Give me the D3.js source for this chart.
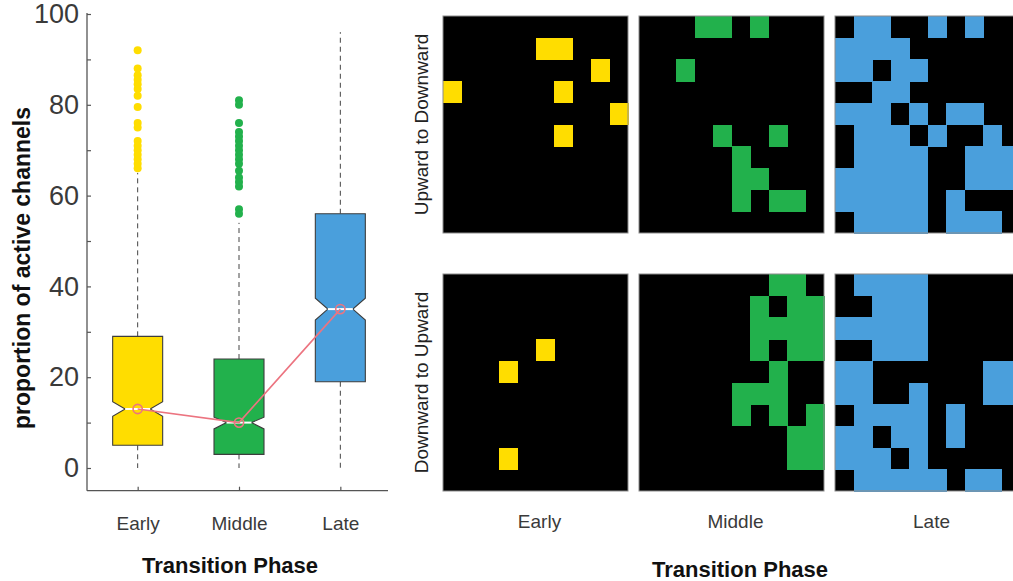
<!DOCTYPE html>
<html>
<head>
<meta charset="utf-8">
<script src="https://cdn.jsdelivr.net/npm/d3@7"></script>
<style>
  html, body { margin: 0; padding: 0; background: #fff; }
  svg { display: block; font-family: "Liberation Sans", Arial, sans-serif; }
</style>
</head>
<body>
<svg id="fig" width="1013" height="581"></svg>
<script>
// ---- box plot data: proportion of active channels per transition phase ----
const categories = ["Early", "Middle", "Late"];
const phaseColors = ["#FFDD00", "#22B14C", "#4A9FDC"];
const q1 = [5, 3, 19];
const medians = [13, 10, 35];
const q3 = [29, 24, 56];
const whiskerLow = [0, 0, 0];
const whiskerHigh = [65, 54, 96];
const notchLow = [11.4, 8.6, 32.6];
const notchHigh = [14.6, 11.2, 37.4];
const earlyOutliers = [92, 88, 86.5, 85.5, 84.5, 83.5, 82, 79.5, 76, 75, 72, 71, 70, 69, 68, 67, 66];
const middleOutliers = [81, 80, 76, 74, 73, 72, 71, 70, 69, 68, 67, 65.5, 64, 63, 62, 57, 56];
const lateOutliers = [];
const yTicks = [0, 10, 20, 30, 40, 50, 60, 70, 80, 90, 100];
const yTickLabels = [0, 20, 40, 60, 80, 100];

// ---- channel maps (1 = active channel) ----
const directions = ["Upward to Downward", "Downward to Upward"];
const earlyUp = [
  [0,0,0,0,0,0,0,0,0,0],
  [0,0,0,0,0,1,1,0,0,0],
  [0,0,0,0,0,0,0,0,1,0],
  [1,0,0,0,0,0,1,0,0,0],
  [0,0,0,0,0,0,0,0,0,1],
  [0,0,0,0,0,0,1,0,0,0],
  [0,0,0,0,0,0,0,0,0,0],
  [0,0,0,0,0,0,0,0,0,0],
  [0,0,0,0,0,0,0,0,0,0],
  [0,0,0,0,0,0,0,0,0,0]
];
const middleUp = [
  [0,0,0,1,1,0,1,0,0,0],
  [0,0,0,0,0,0,0,0,0,0],
  [0,0,1,0,0,0,0,0,0,0],
  [0,0,0,0,0,0,0,0,0,0],
  [0,0,0,0,0,0,0,0,0,0],
  [0,0,0,0,1,0,0,1,0,0],
  [0,0,0,0,0,1,0,0,0,0],
  [0,0,0,0,0,1,1,0,0,0],
  [0,0,0,0,0,1,0,1,1,0],
  [0,0,0,0,0,0,0,0,0,0]
];
const lateUp = [
  [0,1,1,0,0,1,0,1,0,0],
  [1,1,1,1,0,0,0,0,0,0],
  [1,1,0,1,1,0,0,0,0,0],
  [0,0,1,1,0,0,0,0,0,0],
  [1,1,1,0,1,0,1,1,0,0],
  [0,1,1,1,0,1,0,0,1,0],
  [0,1,1,1,1,0,0,1,1,1],
  [1,1,1,1,1,0,0,1,1,1],
  [1,1,1,1,1,0,1,0,0,0],
  [0,1,1,1,1,0,1,1,1,0]
];
const earlyDown = [
  [0,0,0,0,0,0,0,0,0,0],
  [0,0,0,0,0,0,0,0,0,0],
  [0,0,0,0,0,0,0,0,0,0],
  [0,0,0,0,0,1,0,0,0,0],
  [0,0,0,1,0,0,0,0,0,0],
  [0,0,0,0,0,0,0,0,0,0],
  [0,0,0,0,0,0,0,0,0,0],
  [0,0,0,0,0,0,0,0,0,0],
  [0,0,0,1,0,0,0,0,0,0],
  [0,0,0,0,0,0,0,0,0,0]
];
const middleDown = [
  [0,0,0,0,0,0,0,1,1,0],
  [0,0,0,0,0,0,1,0,1,1],
  [0,0,0,0,0,0,1,1,1,1],
  [0,0,0,0,0,0,1,0,1,1],
  [0,0,0,0,0,0,0,1,0,0],
  [0,0,0,0,0,1,1,1,0,0],
  [0,0,0,0,0,1,0,1,0,1],
  [0,0,0,0,0,0,0,0,1,1],
  [0,0,0,0,0,0,0,0,1,1],
  [0,0,0,0,0,0,0,0,0,0]
];
const lateDown = [
  [0,1,1,1,1,0,0,0,0,0],
  [0,0,1,1,1,0,0,0,0,0],
  [1,1,1,1,1,0,0,0,0,0],
  [0,0,1,1,1,0,0,0,0,0],
  [1,1,0,0,0,0,0,0,1,1],
  [1,1,0,0,1,0,0,0,1,1],
  [0,1,1,1,1,0,1,0,0,0],
  [1,1,0,1,1,0,1,0,0,0],
  [1,1,1,0,1,0,0,0,0,0],
  [0,1,1,1,1,1,0,1,1,0]
];

const svg = d3.select("#fig");
const axisColor = "#555";
const textColor = "#3a3a3a";
const medianLineColor = "#EC7480";

// ================= left: notched box plot =================
const x = d3.scaleLinear().domain([0.5, 3.5]).range([87, 391]);
const y = d3.scaleLinear().domain([-5, 100]).range([490.7, 14]);
const boxW = 50;

const left = svg.append("g");

// axes
const yAxis = d3.axisLeft(y).tickValues(yTicks).tickSize(-4).tickSizeOuter(0)
  .tickFormat(d => yTickLabels.includes(d) ? d : "");
const yg = left.append("g").attr("transform", `translate(${x.range()[0]},0)`).call(yAxis);
yg.select(".domain").attr("stroke", axisColor).attr("stroke-width", 1.3)
  .attr("d", `M0,${y.range()[0]}V${y(100) - 1}`);
yg.selectAll(".tick line").attr("stroke", axisColor).attr("stroke-width", 1.2);
yg.selectAll(".tick text").attr("x", -8).attr("fill", textColor)
  .style("font-size", "27px").style("font-family", "'Liberation Sans', Arial, sans-serif");

const xAxis = d3.axisBottom(x).tickValues([1, 2, 3]).tickSize(-4).tickSizeOuter(0)
  .tickFormat(d => categories[d - 1]);
const xg = left.append("g").attr("transform", `translate(0,${y.range()[0]})`).call(xAxis);
xg.select(".domain").attr("stroke", axisColor).attr("stroke-width", 1.3)
  .attr("d", `M${x.range()[0]},0H${x.range()[1] - 3}`);
xg.selectAll(".tick line").attr("stroke", axisColor).attr("stroke-width", 1.2);
xg.selectAll(".tick text").attr("y", 26).attr("dy", "0.71em").attr("fill", textColor)
  .style("font-size", "19px").style("font-family", "'Liberation Sans', Arial, sans-serif");

left.append("text")
  .attr("transform", `translate(30,${268}) rotate(-90)`)
  .attr("text-anchor", "middle").attr("fill", "#111")
  .style("font-size", "23px").style("font-weight", "bold")
  .text("proportion of active channels");

left.append("text")
  .attr("x", 230).attr("y", 573).attr("text-anchor", "middle").attr("fill", "#111")
  .style("font-size", "22px").style("font-weight", "bold")
  .text("Transition Phase");

// boxes
const outliers = [earlyOutliers, middleOutliers, lateOutliers];
categories.forEach((c, i) => {
  const cx = x(i + 1);
  const g = left.append("g");
  const dash = "5,4";
  // whiskers
  g.append("line").attr("x1", cx).attr("x2", cx).attr("y1", y(q3[i])).attr("y2", y(whiskerHigh[i]))
    .attr("stroke", "#444").attr("stroke-width", 1).attr("stroke-dasharray", dash);
  g.append("line").attr("x1", cx).attr("x2", cx).attr("y1", y(q1[i])).attr("y2", y(whiskerLow[i]))
    .attr("stroke", "#444").attr("stroke-width", 1).attr("stroke-dasharray", dash);
  // notched box outline
  const hw = boxW / 2, nw = boxW / 4;
  const pts = [
    [cx - hw, y(q3[i])], [cx + hw, y(q3[i])], [cx + hw, y(notchHigh[i])],
    [cx + nw, y(medians[i])], [cx + hw, y(notchLow[i])], [cx + hw, y(q1[i])],
    [cx - hw, y(q1[i])], [cx - hw, y(notchLow[i])], [cx - nw, y(medians[i])],
    [cx - hw, y(notchHigh[i])]
  ];
  g.append("path").attr("d", d3.line()(pts) + "Z")
    .attr("fill", phaseColors[i]).attr("stroke", "#3d3d3d").attr("stroke-width", 1.1)
    .attr("stroke-linejoin", "miter");
  // median line
  g.append("line").attr("x1", cx - nw).attr("x2", cx + nw)
    .attr("y1", y(medians[i])).attr("y2", y(medians[i]))
    .attr("stroke", "#fff").attr("stroke-width", 2);
  // outliers
  g.selectAll("circle.out").data(outliers[i]).join("circle")
    .attr("class", "out").attr("cx", cx).attr("cy", d => y(d)).attr("r", 4)
    .attr("fill", phaseColors[i]);
});

// median trend line with open markers
left.append("path")
  .attr("d", d3.line().x((d, i) => x(i + 1)).y(d => y(d))(medians))
  .attr("fill", "none").attr("stroke", medianLineColor).attr("stroke-width", 1.6);
left.selectAll("circle.med").data(medians).join("circle")
  .attr("class", "med").attr("cx", (d, i) => x(i + 1)).attr("cy", d => y(d)).attr("r", 4.6)
  .attr("fill", "none").attr("stroke", medianLineColor).attr("stroke-width", 1.6);

// ================= right: channel activity maps =================
const maps = {
  "Upward to Downward": [earlyUp, middleUp, lateUp],
  "Downward to Upward": [earlyDown, middleDown, lateDown]
};
const panelX = d3.scaleBand().domain(categories).range([443, 1020]).paddingInner(11 / 196);
const panelY = d3.scaleBand().domain(directions).range([16, 491]).paddingInner(41 / 258);
const cellIdx = d3.range(10);
const cellX = d3.scaleBand().domain(cellIdx).range([0, panelX.bandwidth()]);
const cellY = d3.scaleBand().domain(cellIdx).range([0, panelY.bandwidth()]);

const right = svg.append("g");
directions.forEach(dir => {
  categories.forEach((cat, ci) => {
    const g = right.append("g")
      .attr("transform", `translate(${panelX(cat)},${panelY(dir)})`);
    g.append("rect").attr("width", panelX.bandwidth()).attr("height", panelY.bandwidth())
      .attr("fill", "#000");
    const cells = [];
    maps[dir][ci].forEach((row, r) => row.forEach((v, c) => { if (v) cells.push({ r, c }); }));
    g.selectAll("rect.cell").data(cells).join("rect")
      .attr("class", "cell")
      .attr("x", d => cellX(d.c)).attr("y", d => cellY(d.r))
      .attr("width", cellX.bandwidth() + 0.5).attr("height", cellY.bandwidth() + 0.5)
      .attr("fill", phaseColors[ci]).attr("shape-rendering", "crispEdges");
    g.append("rect").attr("width", panelX.bandwidth()).attr("height", panelY.bandwidth())
      .attr("fill", "none").attr("stroke", "#8c8c8c").attr("stroke-width", 1);
  });
  right.append("text")
    .attr("transform", `translate(428,${panelY(dir) + panelY.bandwidth() / 2}) rotate(-90)`)
    .attr("text-anchor", "middle").attr("fill", "#222")
    .style("font-size", "19px")
    .text(dir);
});

categories.forEach(cat => {
  right.append("text")
    .attr("x", panelX(cat) + panelX.bandwidth() / 2 + 4).attr("y", 528)
    .attr("text-anchor", "middle").attr("fill", textColor)
    .style("font-size", "19px")
    .text(cat);
});
right.append("text")
  .attr("x", 740).attr("y", 577).attr("text-anchor", "middle").attr("fill", "#111")
  .style("font-size", "22px").style("font-weight", "bold")
  .text("Transition Phase");
</script>
</body>
</html>
